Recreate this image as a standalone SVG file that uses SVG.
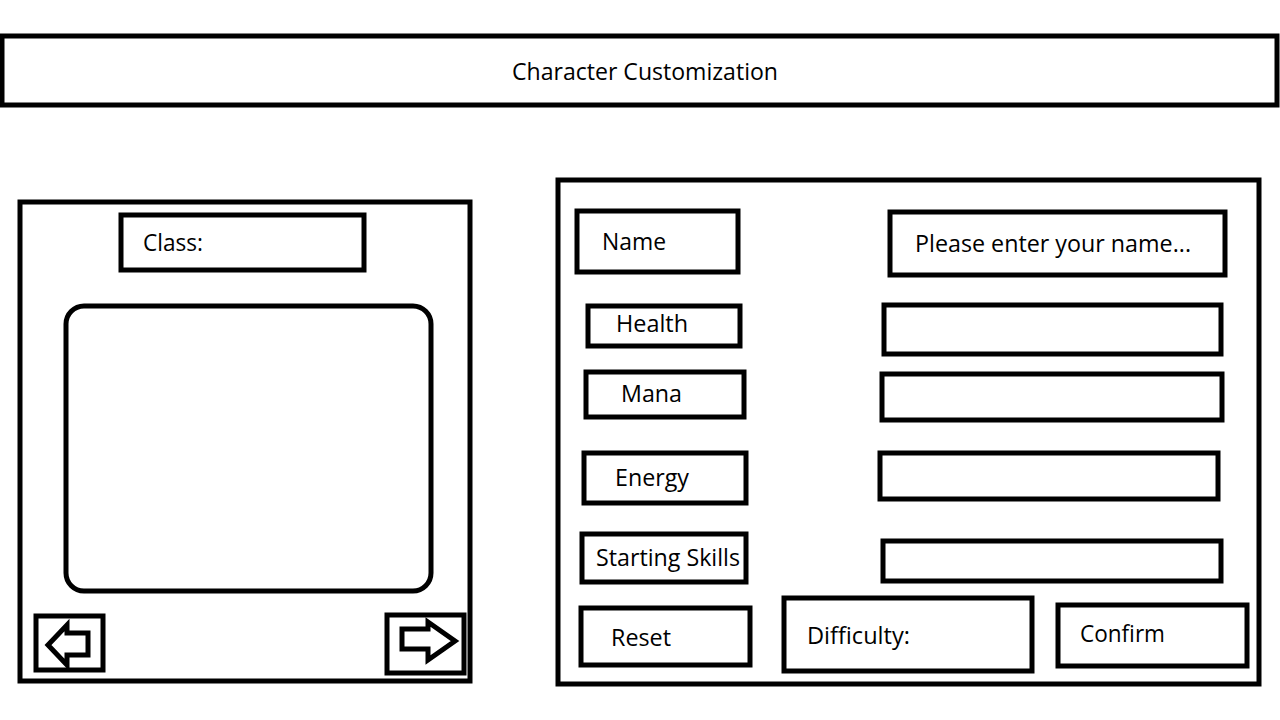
<svg xmlns="http://www.w3.org/2000/svg" width="1280" height="720" viewBox="0 0 1280 720">
<style>
.b{fill:#fff;stroke:#000;stroke-width:5}
.t{font-family:"Open Sans","Noto Sans",sans-serif;font-size:23px;fill:#000}
</style>
<rect width="1280" height="720" fill="#fff"/>
<g id="title"><rect class="b" x="2" y="36" width="1275" height="69"/><text class="t" x="512" y="80" textLength="266" lengthAdjust="spacingAndGlyphs">Character Customization</text></g>
<g id="left-panel"><rect class="b" x="20" y="202" width="450" height="479"/></g>
<g id="class"><rect class="b" x="121" y="215" width="243" height="55"/><text class="t" x="143" y="251" textLength="60" lengthAdjust="spacingAndGlyphs">Class:</text></g>
<g id="preview"><rect class="b" x="66" y="306" width="365" height="285" rx="18"/></g>
<g id="prev-btn"><rect class="b" x="36" y="616" width="67" height="54"/><path class="b" d="M48,645 L67,625 L67,633 L88,633 L88,655 L67,655 L67,665 Z"/></g>
<g id="next-btn"><rect class="b" x="387" y="615" width="77" height="58"/><path class="b" d="M402,629 L428,629 L428,622 L455,641 L428,660 L428,649 L402,649 Z"/></g>
<g id="right-panel"><rect class="b" x="558" y="180" width="701" height="504"/></g>
<g id="name"><rect class="b" x="577" y="211" width="161" height="61"/><text class="t" x="602" y="250" textLength="64" lengthAdjust="spacingAndGlyphs">Name</text></g>
<g id="name-input"><rect class="b" x="890" y="212" width="335" height="63"/><text class="t" x="915" y="252" textLength="276" lengthAdjust="spacingAndGlyphs">Please enter your name...</text></g>
<g id="health"><rect class="b" x="588" y="306" width="152" height="40"/><text class="t" x="616" y="332" textLength="72" lengthAdjust="spacingAndGlyphs">Health</text></g>
<g id="health-input"><rect class="b" x="884" y="305" width="337" height="49"/></g>
<g id="mana"><rect class="b" x="586" y="372" width="158" height="45"/><text class="t" x="621" y="402" textLength="61" lengthAdjust="spacingAndGlyphs">Mana</text></g>
<g id="mana-input"><rect class="b" x="882" y="374" width="340" height="46"/></g>
<g id="energy"><rect class="b" x="584" y="453" width="162" height="50"/><text class="t" x="615" y="486" textLength="74" lengthAdjust="spacingAndGlyphs">Energy</text></g>
<g id="energy-input"><rect class="b" x="880" y="453" width="338" height="46"/></g>
<g id="skills"><rect class="b" x="582" y="534" width="164" height="48"/><text class="t" x="596" y="566" textLength="144" lengthAdjust="spacingAndGlyphs">Starting Skills</text></g>
<g id="skills-input"><rect class="b" x="883" y="541" width="338" height="40"/></g>
<g id="reset"><rect class="b" x="581" y="608" width="169" height="57"/><text class="t" x="611" y="646" textLength="60" lengthAdjust="spacingAndGlyphs">Reset</text></g>
<g id="difficulty"><rect class="b" x="784" y="598" width="248" height="73"/><text class="t" x="807" y="644" textLength="103" lengthAdjust="spacingAndGlyphs">Difficulty:</text></g>
<g id="confirm"><rect class="b" x="1058" y="605" width="189" height="61"/><text class="t" x="1080" y="642" textLength="85" lengthAdjust="spacingAndGlyphs">Confirm</text></g>
<g id="connectors"/>
</svg>
